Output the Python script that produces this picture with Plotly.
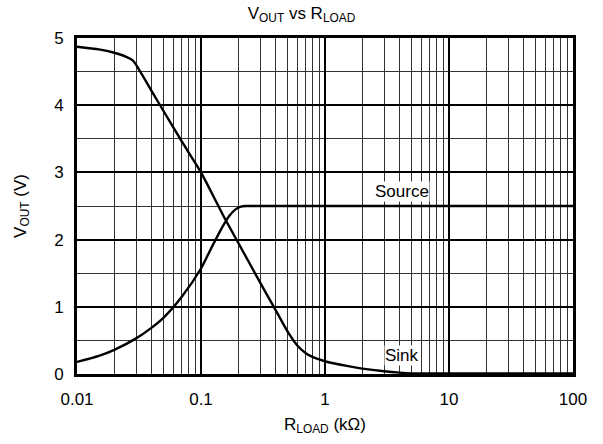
import plotly.graph_objects as go

# Load resistance (kOhm) and output voltage (V)
sink_r = [0.01, 0.015, 0.02, 0.025, 0.028, 0.03, 0.04, 0.05, 0.07, 0.1, 0.15, 0.2, 0.3, 0.4, 0.5, 0.6, 0.7, 0.8, 1, 1.5, 2, 3, 4, 5, 10, 100]
sink_v = [4.87, 4.83, 4.78, 4.72, 4.67, 4.6, 4.21, 3.91, 3.46, 3.0, 2.37, 1.95, 1.36, 0.95, 0.63, 0.42, 0.31, 0.25, 0.19, 0.12, 0.08, 0.04, 0.02, 0.01, 0.01, 0.01]

source_r = [0.01, 0.015, 0.02, 0.03, 0.04, 0.05, 0.07, 0.1, 0.12, 0.15, 0.17, 0.19, 0.21, 0.23, 0.26, 1, 10, 100]
source_v = [0.18, 0.27, 0.36, 0.53, 0.69, 0.84, 1.15, 1.57, 1.86, 2.2, 2.36, 2.45, 2.49, 2.5, 2.5, 2.5, 2.5, 2.5]

x_major = [0.01, 0.1, 1, 10, 100]
x_labels = ["0.01", "0.1", "1", "10", "100"]
x_minor = [d * m for d in [0.01, 0.1, 1, 10] for m in range(2, 10)]

font_family = "Liberation Sans, Arial, sans-serif"
curve = dict(color="black", width=2.4, shape="spline", smoothing=0.6)

fig = go.Figure()
fig.add_trace(go.Scatter(x=sink_r, y=sink_v, mode="lines", line=curve, showlegend=False))
fig.add_trace(go.Scatter(x=source_r, y=source_v, mode="lines", line=curve, showlegend=False))

fig.add_annotation(x=0.62, y=2.72, text="Source", showarrow=False, bgcolor="white",
                   font=dict(size=17, color="black", family=font_family), borderpad=0)
fig.add_annotation(x=0.62, y=0.27, text="Sink", showarrow=False, bgcolor="white",
                   font=dict(size=17, color="black", family=font_family), borderpad=0)
fig.update_annotations(xref="x", yref="y")

fig.update_layout(
    width=603, height=444,
    margin=dict(l=77, r=30, t=38, b=70),
    paper_bgcolor="white", plot_bgcolor="white",
    font=dict(family=font_family, color="black", size=17),
    title=dict(text="V<sub>OUT</sub> vs R<sub>LOAD</sub>", x=0.5, xanchor="center", y=0.985, yanchor="top", font=dict(size=17)),
    xaxis=dict(
        type="log", range=[-2, 2],
        tickmode="array", tickvals=x_major, ticktext=x_labels,
        showgrid=True, gridcolor="black", gridwidth=2,
        minor=dict(tickmode="array", tickvals=x_minor, showgrid=True, gridcolor="#333", gridwidth=1, ticks=""),
        showline=True, linecolor="black", linewidth=3, mirror=True,
        ticks="", zeroline=False, ticklabelstandoff=8,
        title=dict(text="R<sub>LOAD</sub> (kΩ)", font=dict(size=17), standoff=10),
    ),
    yaxis=dict(
        range=[0, 5], dtick=1,
        showgrid=True, gridcolor="black", gridwidth=1.5,
        minor=dict(dtick=0.5, showgrid=True, gridcolor="#333", gridwidth=1, ticks=""),
        showline=True, linecolor="black", linewidth=3, mirror=True,
        ticks="", zeroline=False, ticklabelstandoff=7,
        title=dict(text="V<sub>OUT</sub> (V)", font=dict(size=17), standoff=24),
    ),
)

fig.write_html("out.html")
